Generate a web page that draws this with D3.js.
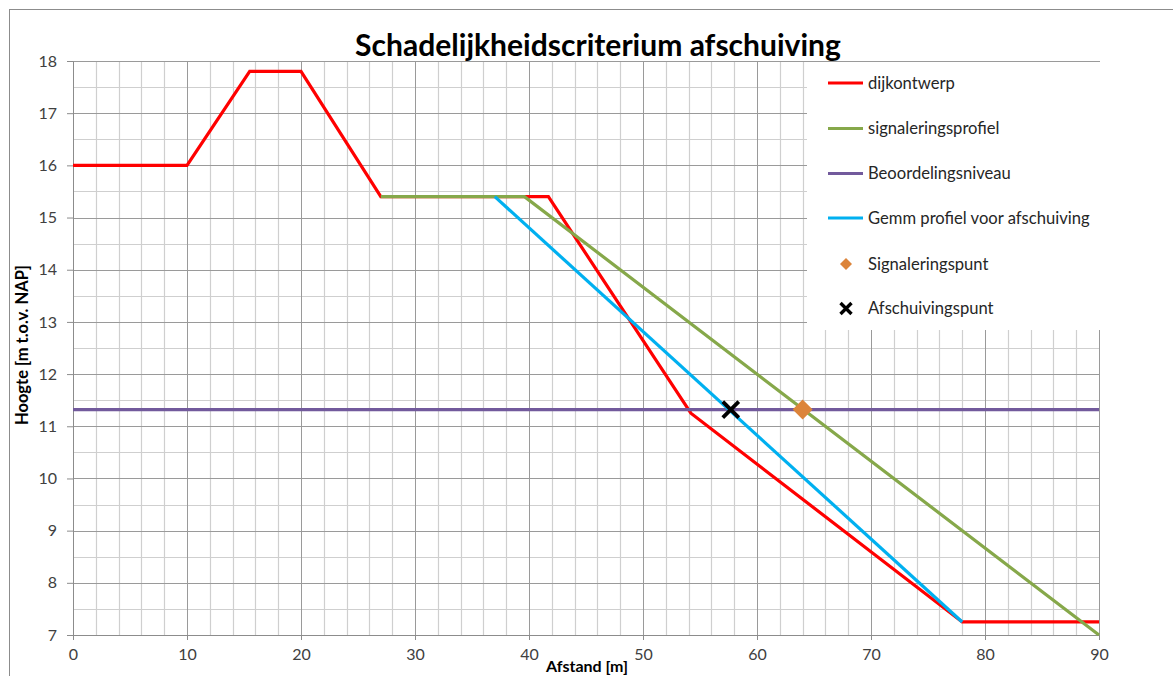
<!DOCTYPE html>
<html>
<head>
<meta charset="utf-8">
<script src="https://cdn.jsdelivr.net/npm/d3@7"></script>
<style>
  html, body { margin: 0; padding: 0; background: #ffffff; }
  svg { display: block; font-family: Lato, "Open Sans", sans-serif; }
</style>
</head>
<body>
<svg id="chart" width="1173" height="676"></svg>
<script>
// ---- data ----
const chartTitle = "Schadelijkheidscriterium afschuiving";
const xTitle = "Afstand [m]";
const yTitle = "Hoogte [m t.o.v. NAP]";

const dijkAfstand = [0, 10, 15.5, 20, 27, 41.7, 54.2, 78, 90];
const dijkHoogte  = [16, 16, 17.8, 17.8, 15.4, 15.4, 11.25, 7.25, 7.25];

const signaalAfstand = [27, 39.6, 90];
const signaalHoogte  = [15.4, 15.4, 7.0];

const beoordelingAfstand = [0, 90];
const beoordelingHoogte  = [11.32, 11.32];

const gemmAfstand = [37, 78];
const gemmHoogte  = [15.4, 7.25];

const signaleringspunt = [64.0, 11.32];
const afschuivingspunt = [57.7, 11.32];

const xTicks = [0, 10, 20, 30, 40, 50, 60, 70, 80, 90];
const yTicks = [7, 8, 9, 10, 11, 12, 13, 14, 15, 16, 17, 18];

const legendLabels = ["dijkontwerp", "signaleringsprofiel", "Beoordelingsniveau",
                      "Gemm profiel voor afschuiving", "Signaleringspunt", "Afschuivingspunt"];

(function () {
// ---- layout ----
const svg = d3.select("#chart");
const pLeft = 73, pRight = 1099, pTop = 61, pBottom = 635;
const x = d3.scaleLinear().domain([0, 90]).range([pLeft, pRight]);
const y = d3.scaleLinear().domain([7, 18]).range([pBottom, pTop]);

// outer chart border
svg.append("rect").attr("x", 9.5).attr("y", 9.5).attr("width", 1300).attr("height", 800)
  .attr("fill", "#fff").attr("stroke", "#8c8c8c").attr("stroke-width", 1);

// grid
const g = svg.append("g");
const xMinor = d3.range(0, 91, 2).filter(v => v % 10 !== 0);
const yMinor = d3.range(7, 18.01, 0.5).filter(v => v % 1 !== 0);
g.selectAll(".xm").data(xMinor).join("line")
  .attr("x1", d => Math.round(x(d)) + 0.5).attr("x2", d => Math.round(x(d)) + 0.5)
  .attr("y1", pTop).attr("y2", pBottom).attr("stroke", "#cfcfcf").attr("stroke-width", 1.2);
g.selectAll(".ym").data(yMinor).join("line")
  .attr("y1", d => Math.round(y(d)) + 0.5).attr("y2", d => Math.round(y(d)) + 0.5)
  .attr("x1", pLeft).attr("x2", pRight).attr("stroke", "#cfcfcf").attr("stroke-width", 1.2);
g.selectAll(".xM").data(xTicks).join("line")
  .attr("x1", d => Math.round(x(d)) + 0.5).attr("x2", d => Math.round(x(d)) + 0.5)
  .attr("y1", pTop).attr("y2", pBottom).attr("stroke", "#9a9a9a").attr("stroke-width", 1);
g.selectAll(".yM").data(yTicks).join("line")
  .attr("y1", d => Math.round(y(d)) + 0.5).attr("y2", d => Math.round(y(d)) + 0.5)
  .attr("x1", pLeft).attr("x2", pRight).attr("stroke", "#9a9a9a").attr("stroke-width", 1);

// axes
const xAxis = d3.axisBottom(x).tickValues(xTicks).tickSize(5).tickPadding(9).tickFormat(d3.format("d"));
const yAxis = d3.axisLeft(y).tickValues(yTicks).tickSize(6).tickPadding(10).tickFormat(d3.format("d"));
const gx = svg.append("g").attr("transform", `translate(0,${pBottom})`).call(xAxis);
const gy = svg.append("g").attr("transform", `translate(${pLeft},0)`).call(yAxis);
[gx, gy].forEach(a => {
  a.selectAll("path").attr("stroke", "#8c8c8c");
  a.selectAll("line").attr("stroke", "#8c8c8c");
  a.selectAll("text").attr("fill", "#404040").style("font-size", "16px").style("font-family", "Lato, sans-serif");
});

// series
const line = d3.line().x(d => x(d[0])).y(d => y(d[1]));
function drawSeries(xs, ys, color) {
  svg.append("path").datum(xs.map((v, i) => [v, ys[i]]))
    .attr("d", line).attr("fill", "none").attr("stroke", color)
    .attr("stroke-width", 3.2).attr("stroke-linejoin", "miter");
}
const colors = ["#ff0000", "#86a84a", "#725a9c", "#00b0f0", "#dc843a", "#000000"];
drawSeries(dijkAfstand, dijkHoogte, colors[0]);
drawSeries(signaalAfstand, signaalHoogte, colors[1]);
drawSeries(beoordelingAfstand, beoordelingHoogte, colors[2]);
drawSeries(gemmAfstand, gemmHoogte, colors[3]);

const diamond = (cx, cy, r) => `M${cx},${cy - r}L${cx + r},${cy}L${cx},${cy + r}L${cx - r},${cy}Z`;
function cross(sel, cx, cy, r, w) {
  sel.append("path").attr("d", `M${cx - r},${cy - r}L${cx + r},${cy + r}M${cx - r},${cy + r}L${cx + r},${cy - r}`)
    .attr("stroke", colors[5]).attr("stroke-width", w).attr("fill", "none");
}
svg.append("path").attr("d", diamond(x(signaleringspunt[0]), y(signaleringspunt[1]), 10)).attr("fill", colors[4]);
cross(svg, x(afschuivingspunt[0]), y(afschuivingspunt[1]), 8, 3.8);

// legend
const lg = svg.append("g");
lg.append("rect").attr("x", 807).attr("y", 62).attr("width", 296).attr("height", 268).attr("fill", "#fff");
const legY = [83, 128.5, 173.5, 218, 264, 308.5];
legendLabels.forEach((lab, i) => {
  const yy = legY[i];
  if (i < 4) {
    lg.append("line").attr("x1", 828).attr("x2", 863).attr("y1", yy).attr("y2", yy)
      .attr("stroke", colors[i]).attr("stroke-width", 3.2);
  } else if (i === 4) {
    lg.append("path").attr("d", diamond(846, yy, 6)).attr("fill", colors[4]);
  } else {
    cross(lg, 846, yy, 5.5, 3.4);
  }
  lg.append("text").attr("x", 868).attr("y", yy).attr("dy", "0.35em")
    .attr("fill", "#262626").style("font-size", "16.6px").text(lab);
});

// title
const t = svg.append("text").attr("x", 598).attr("y", 56).attr("text-anchor", "middle")
  .style("font-weight", "bold").style("font-size", "29px").attr("fill", "#000").text(chartTitle);
const tw = t.node().getComputedTextLength();
t.style("font-size", (29 * 486 / tw) + "px");

// axis titles
svg.append("text").attr("x", 587).attr("y", 672).attr("text-anchor", "middle")
  .style("font-weight", "bold").style("font-size", "16px").attr("fill", "#000").text(xTitle);
svg.append("text").attr("transform", "translate(28,345) rotate(-90)").attr("text-anchor", "middle")
  .style("font-weight", "bold").style("font-size", "16.5px").attr("fill", "#000").text(yTitle);
})();
</script>
</body>
</html>
